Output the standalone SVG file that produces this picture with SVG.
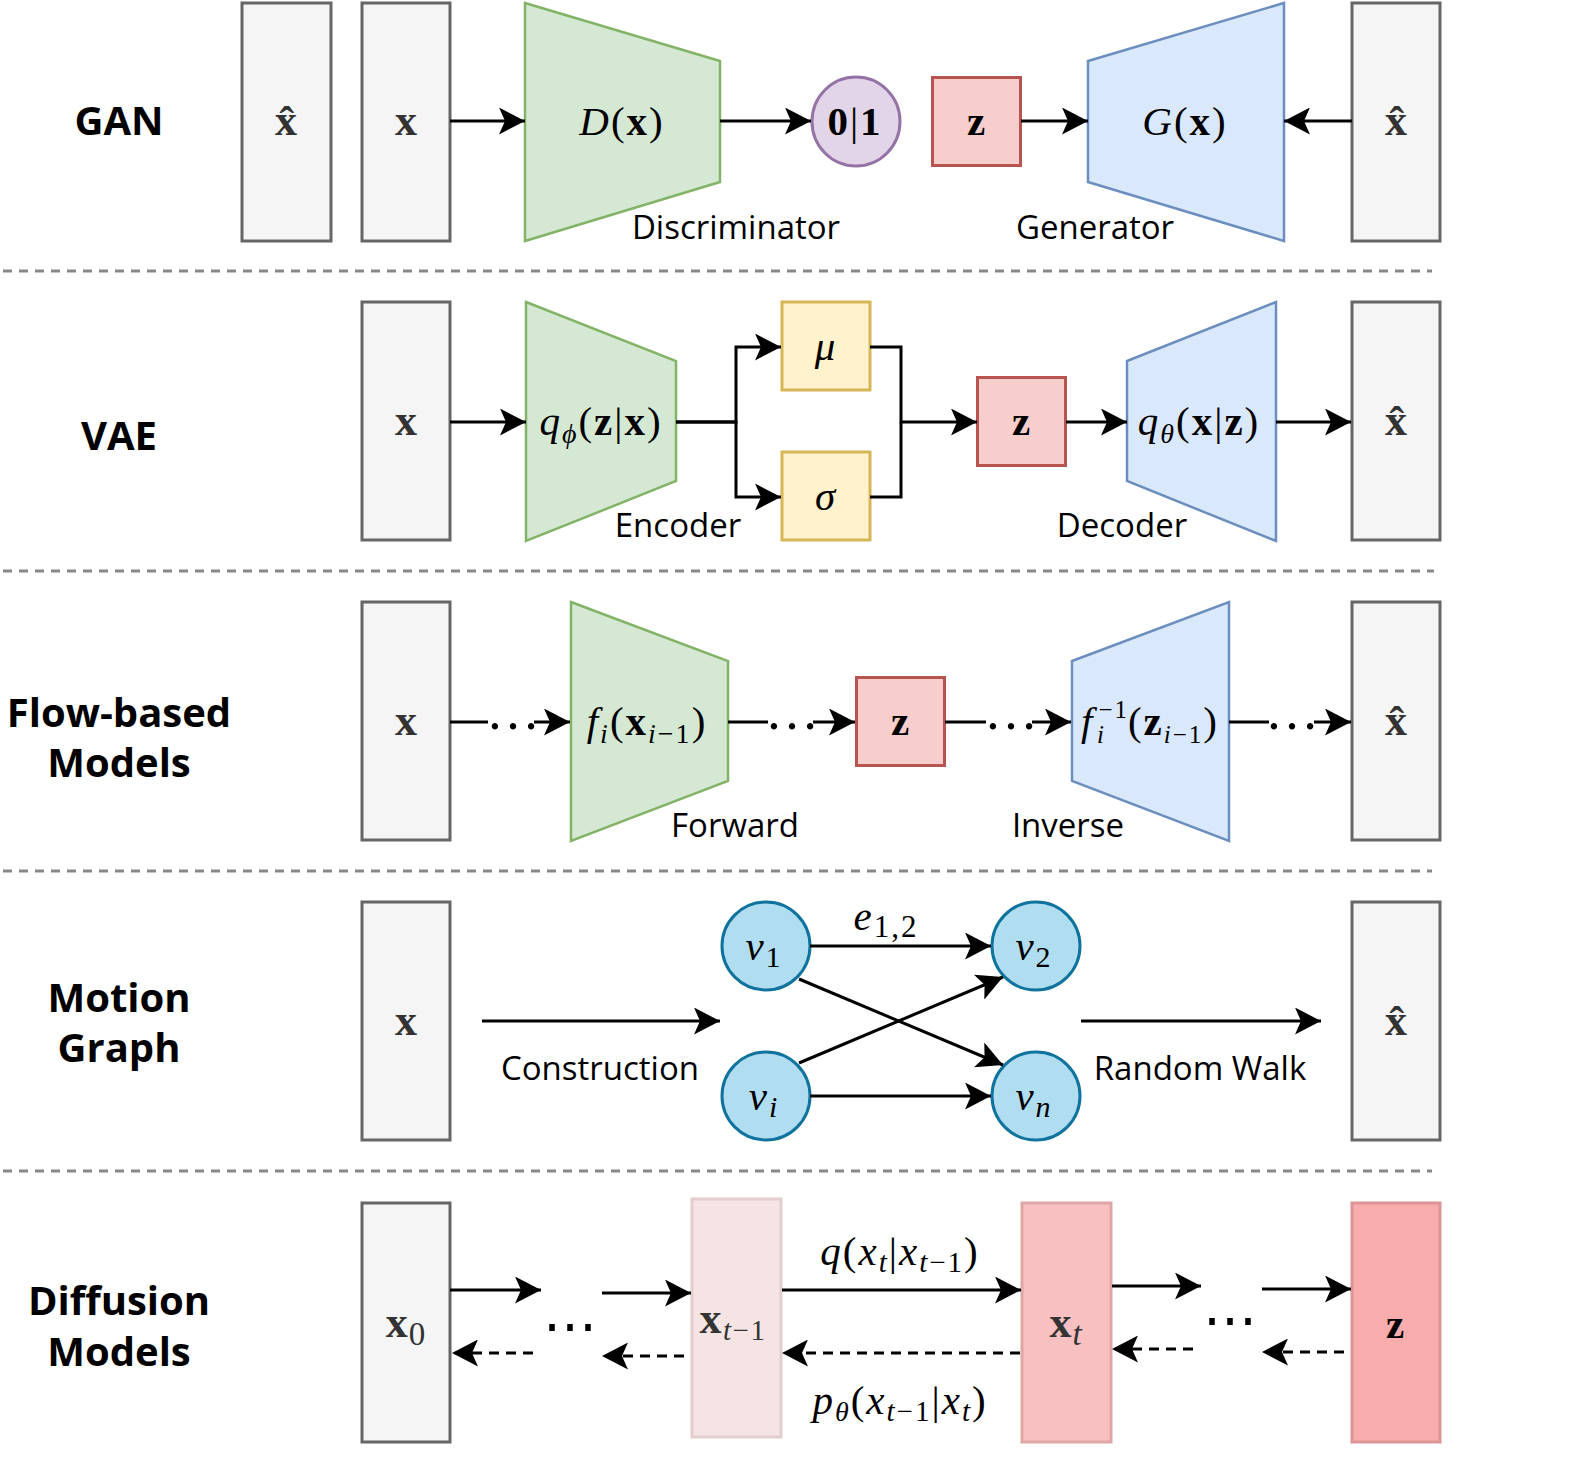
<svg xmlns="http://www.w3.org/2000/svg" width="1590" height="1464" viewBox="0 0 1590 1464">
<defs>
<style>
.box{fill:#f5f5f5;stroke:#666666;stroke-width:3}
.green{fill:#d5e8d4;stroke:#82b366;stroke-width:2.5}
.blue{fill:#dae8fc;stroke:#6c8ebf;stroke-width:2.5}
.red{fill:#f8cecc;stroke:#b85450;stroke-width:3}
.yellow{fill:#fff2cc;stroke:#d6b656;stroke-width:3}
.purple{fill:#e1d5e7;stroke:#9673a6;stroke-width:3}
.gnode{fill:#b1ddf0;stroke:#10739e;stroke-width:3}
.d1{fill:#f6e4e4;stroke:#e3cdcd;stroke-width:3}
.d2{fill:#f8c0c0;stroke:#e0a6a6;stroke-width:3}
.d3{fill:#f8acac;stroke:#db9596;stroke-width:3}
.edge{fill:none;stroke:#000;stroke-width:3}
.dash{stroke-dasharray:10 7}
.sep{fill:none;stroke:#888888;stroke-width:3;stroke-dasharray:9 7}
.title{font-family:"Open Sans","Noto Sans",sans-serif;font-weight:bold;font-size:40px;text-anchor:middle;fill:#000}
.lbl{font-family:"Open Sans","Noto Sans",sans-serif;font-size:33px;text-anchor:middle;fill:#000}
.m{font-family:"Liberation Serif","DejaVu Serif",serif;font-size:41px;letter-spacing:2px;text-anchor:middle;fill:#000}
.bx{font-family:"Liberation Serif","DejaVu Serif",serif;font-weight:bold;font-size:44px;text-anchor:middle;fill:#333333}
.dots{font-family:"Liberation Serif","DejaVu Serif",serif;font-size:54px;text-anchor:middle;fill:#000}
.i{font-style:italic}
.b{font-weight:bold}
</style>
<marker id="arr" viewBox="0 0 26 27" markerWidth="26" markerHeight="27" refX="26" refY="13.5" orient="auto" markerUnits="userSpaceOnUse">
<path d="M0,0 L26,13.5 L0,27 L6,13.5 Z" fill="#000"/>
</marker>
</defs>

<g id="separators">
<line class="sep" x1="3" y1="271" x2="1432" y2="271"/>
<line class="sep" x1="3" y1="571" x2="1434" y2="571"/>
<line class="sep" x1="3" y1="871" x2="1432" y2="871"/>
<line class="sep" x1="3" y1="1171" x2="1432" y2="1171"/>
</g>

<g id="row-labels">
<text class="title" x="119" y="135">GAN</text>
<text class="title" x="119" y="450">VAE</text>
<text class="title" x="119" y="727">Flow-based</text>
<text class="title" x="119" y="777">Models</text>
<text class="title" x="119" y="1012">Motion</text>
<text class="title" x="119" y="1062">Graph</text>
<text class="title" x="119" y="1315">Diffusion</text>
<text class="title" x="119" y="1366">Models</text>
</g>

<!-- GAN -->
<g id="gan-xhat-left"><rect class="box" x="242" y="3" width="89" height="238"/><text class="bx" x="286" y="135">x̂</text></g>
<g id="gan-x"><rect class="box" x="362" y="3" width="88" height="238"/><text class="bx" x="406" y="135">x</text></g>
<g id="gan-disc"><polygon class="green" points="525,3 720,61 720,182 525,241"/><text class="m" x="622" y="135"><tspan class="i">D</tspan>(<tspan class="b">x</tspan>)</text></g>
<g id="gan-out"><ellipse class="purple" cx="856" cy="121.5" rx="44" ry="44.5"/><text class="m" x="855" y="135"><tspan class="b">0</tspan>|<tspan class="b">1</tspan></text></g>
<g id="gan-z"><rect class="red" x="932.5" y="77.5" width="88" height="88"/><text class="m b" x="977" y="135">z</text></g>
<g id="gan-gen"><polygon class="blue" points="1088,61 1284,3 1284,241 1088,182"/><text class="m" x="1185" y="135"><tspan class="i">G</tspan>(<tspan class="b">x</tspan>)</text></g>
<g id="gan-xhat-right"><rect class="box" x="1352" y="3" width="88" height="238"/><text class="bx" x="1396" y="135">x̂</text></g>
<text class="lbl" x="736" y="239">Discriminator</text>
<text class="lbl" x="1095" y="239">Generator</text>

<!-- VAE -->
<g id="vae-x"><rect class="box" x="362" y="302" width="88" height="238"/><text class="bx" x="406" y="435">x</text></g>
<g id="vae-enc"><polygon class="green" points="526,302 676,361 676,481 526,541"/><text class="m" x="601" y="435"><tspan class="i">q</tspan><tspan class="i" font-size="28" dy="8">ϕ</tspan><tspan dy="-8">(</tspan><tspan class="b">z</tspan>|<tspan class="b">x</tspan>)</text></g>
<g id="vae-mu"><rect class="yellow" x="782" y="302" width="88" height="88"/><text class="m i" x="826" y="360">μ</text></g>
<g id="vae-sigma"><rect class="yellow" x="782" y="452" width="88" height="88"/><text class="m i" x="826" y="510">σ</text></g>
<g id="vae-z"><rect class="red" x="977.5" y="377.5" width="88" height="88"/><text class="m b" x="1022" y="435">z</text></g>
<g id="vae-dec"><polygon class="blue" points="1127,361 1276,302 1276,541 1127,481"/><text class="m" x="1199" y="435"><tspan class="i">q</tspan><tspan class="i" font-size="28" dy="8">θ</tspan><tspan dy="-8">(</tspan><tspan class="b">x</tspan>|<tspan class="b">z</tspan>)</text></g>
<g id="vae-xhat"><rect class="box" x="1352" y="302" width="88" height="238"/><text class="bx" x="1396" y="435">x̂</text></g>
<text class="lbl" x="678" y="537">Encoder</text>
<text class="lbl" x="1122" y="537">Decoder</text>

<!-- Flow -->
<g id="flow-x"><rect class="box" x="362" y="602" width="88" height="238"/><text class="bx" x="406" y="735">x</text></g>
<g id="flow-fwd"><polygon class="green" points="571,602 728,661 728,781 571,841"/><text class="m" x="647" y="735" letter-spacing="3"><tspan class="i">f</tspan><tspan class="i" font-size="28" dy="8">i</tspan><tspan dy="-8">(</tspan><tspan class="b">x</tspan><tspan font-size="28" dy="8"><tspan class="i">i</tspan>−1</tspan><tspan dy="-8">)</tspan></text></g>
<g id="flow-z"><rect class="red" x="856.5" y="677.5" width="88" height="88"/><text class="m b" x="901" y="735">z</text></g>
<g id="flow-inv"><polygon class="blue" points="1072,661 1229,602 1229,841 1072,781"/><text class="m" x="1150" y="735" font-size="37" letter-spacing="1.5"><tspan class="i">f</tspan><tspan font-size="25" dx="4" dy="-17">−1</tspan><tspan class="i" font-size="25" dx="-32" dy="25">i</tspan><tspan dx="22" dy="-8">(</tspan><tspan class="b">z</tspan><tspan font-size="25" dy="8"><tspan class="i">i</tspan>−1</tspan><tspan dy="-8">)</tspan></text></g>
<g id="flow-xhat"><rect class="box" x="1352" y="602" width="88" height="238"/><text class="bx" x="1396" y="735">x̂</text></g>
<text class="lbl" x="735" y="837">Forward</text>
<text class="lbl" x="1068" y="837">Inverse</text>

<!-- Motion graph -->
<g id="mg-x"><rect class="box" x="362" y="902" width="88" height="238"/><text class="bx" x="406" y="1035">x</text></g>
<g id="mg-v1"><ellipse class="gnode" cx="766" cy="946" rx="44" ry="44"/><text class="m" x="764" y="960" font-size="43"><tspan class="i">v</tspan><tspan font-size="30" dy="7">1</tspan></text></g>
<g id="mg-vi"><ellipse class="gnode" cx="766" cy="1096" rx="44" ry="44"/><text class="m" x="764" y="1110" font-size="43"><tspan class="i">v</tspan><tspan class="i" font-size="30" dy="7">i</tspan></text></g>
<g id="mg-v2"><ellipse class="gnode" cx="1036" cy="946" rx="44" ry="44"/><text class="m" x="1034" y="960" font-size="43"><tspan class="i">v</tspan><tspan font-size="30" dy="7">2</tspan></text></g>
<g id="mg-vn"><ellipse class="gnode" cx="1036" cy="1096" rx="44" ry="44"/><text class="m" x="1034" y="1110" font-size="43"><tspan class="i">v</tspan><tspan class="i" font-size="30" dy="7">n</tspan></text></g>
<g id="mg-xhat"><rect class="box" x="1352" y="902" width="88" height="238"/><text class="bx" x="1396" y="1035">x̂</text></g>
<text class="lbl" x="600" y="1080">Construction</text>
<text class="lbl" x="1200" y="1080">Random Walk</text>
<text class="m" x="886" y="930" font-size="45"><tspan class="i">e</tspan><tspan font-size="31" dy="7">1,2</tspan></text>

<!-- Diffusion -->
<g id="df-x0"><rect class="box" x="362" y="1203" width="88" height="239"/><text class="bx" x="406" y="1337" letter-spacing="1">x<tspan font-weight="normal" font-size="33" dy="8">0</tspan></text></g>
<g id="df-xt1"><rect class="d1" x="692" y="1199" width="89" height="238"/><text class="bx" x="733" y="1333" font-size="40" letter-spacing="1.5">x<tspan font-weight="normal" font-size="29" dy="7"><tspan font-style="italic">t</tspan>−1</tspan></text></g>
<g id="df-xt"><rect class="d2" x="1022" y="1203" width="89" height="239"/><text class="bx" x="1066" y="1337" letter-spacing="1">x<tspan font-weight="normal" font-style="italic" font-size="33" dy="8">t</tspan></text></g>
<g id="df-z"><rect class="d3" x="1352" y="1203" width="88" height="239"/><text class="m b" x="1396" y="1338">z</text></g>
<text class="dots" x="570" y="1344" font-size="34">⋯</text>
<text class="dots" x="1230" y="1338" font-size="34">⋯</text>
<text class="m" x="900" y="1265" font-size="42" letter-spacing="3"><tspan class="i">q</tspan>(<tspan class="i">x</tspan><tspan class="i" font-size="29" dy="7">t</tspan><tspan dy="-7">|</tspan><tspan class="i">x</tspan><tspan font-size="29" dy="7"><tspan class="i">t</tspan>−1</tspan><tspan dy="-7">)</tspan></text>
<text class="m" x="900" y="1414" font-size="42" letter-spacing="3"><tspan class="i">p</tspan><tspan class="i" font-size="28" dy="7">θ</tspan><tspan dy="-7">(</tspan><tspan class="i">x</tspan><tspan font-size="29" dy="7"><tspan class="i">t</tspan>−1</tspan><tspan dy="-7">|</tspan><tspan class="i">x</tspan><tspan class="i" font-size="29" dy="7">t</tspan><tspan dy="-7">)</tspan></text>

<!-- flow dots -->
<g id="flow-dots">
<text class="dots" x="513" y="729">…</text>
<text class="dots" x="792" y="729">…</text>
<text class="dots" x="1011" y="729">…</text>
<text class="dots" x="1292" y="729">…</text>
</g>

<g id="connectors">
<!-- GAN -->
<line class="edge" x1="450" y1="121" x2="525" y2="121" marker-end="url(#arr)"/>
<line class="edge" x1="720" y1="121" x2="811" y2="121" marker-end="url(#arr)"/>
<line class="edge" x1="1021" y1="121" x2="1088" y2="121" marker-end="url(#arr)"/>
<line class="edge" x1="1352" y1="121" x2="1284" y2="121" marker-end="url(#arr)"/>
<!-- VAE -->
<line class="edge" x1="450" y1="422" x2="526" y2="422" marker-end="url(#arr)"/>
<path class="edge" d="M676,422 H736 V347 H781" marker-end="url(#arr)"/>
<path class="edge" d="M676,422 H736 V497 H781" marker-end="url(#arr)"/>
<path class="edge" d="M870,347 H901 V422 H977" marker-end="url(#arr)"/>
<path class="edge" d="M870,497 H901 V422"/>
<line class="edge" x1="1066" y1="422" x2="1127" y2="422" marker-end="url(#arr)"/>
<line class="edge" x1="1276" y1="422" x2="1351" y2="422" marker-end="url(#arr)"/>
<!-- Flow -->
<line class="edge" x1="450" y1="722" x2="488" y2="722"/>
<line class="edge" x1="534" y1="722" x2="570" y2="722" marker-end="url(#arr)"/>
<line class="edge" x1="728" y1="722" x2="768" y2="722"/>
<line class="edge" x1="813" y1="722" x2="855" y2="722" marker-end="url(#arr)"/>
<line class="edge" x1="945" y1="722" x2="986" y2="722"/>
<line class="edge" x1="1032" y1="722" x2="1071" y2="722" marker-end="url(#arr)"/>
<line class="edge" x1="1229" y1="722" x2="1269" y2="722"/>
<line class="edge" x1="1314" y1="722" x2="1351" y2="722" marker-end="url(#arr)"/>
<!-- Motion graph -->
<line class="edge" x1="482" y1="1021" x2="720" y2="1021" marker-end="url(#arr)"/>
<line class="edge" x1="1081" y1="1021" x2="1321" y2="1021" marker-end="url(#arr)"/>
<line class="edge" x1="810" y1="946" x2="991" y2="946" marker-end="url(#arr)"/>
<line class="edge" x1="810" y1="1096" x2="991" y2="1096" marker-end="url(#arr)"/>
<line class="edge" x1="799" y1="979" x2="1003" y2="1065" marker-end="url(#arr)"/>
<line class="edge" x1="799" y1="1063" x2="1003" y2="977" marker-end="url(#arr)"/>
<!-- Diffusion forward -->
<line class="edge" x1="450" y1="1290" x2="541" y2="1290" marker-end="url(#arr)"/>
<line class="edge" x1="602" y1="1293" x2="691" y2="1293" marker-end="url(#arr)"/>
<line class="edge" x1="782" y1="1290" x2="1021" y2="1290" marker-end="url(#arr)"/>
<line class="edge" x1="1112" y1="1286" x2="1201" y2="1286" marker-end="url(#arr)"/>
<line class="edge" x1="1262" y1="1289" x2="1351" y2="1289" marker-end="url(#arr)"/>
<!-- Diffusion reverse -->
<line class="edge dash" x1="533" y1="1353" x2="452" y2="1353" marker-end="url(#arr)"/>
<line class="edge dash" x1="684" y1="1356" x2="602" y2="1356" marker-end="url(#arr)"/>
<line class="edge dash" x1="1020" y1="1353" x2="782" y2="1353" marker-end="url(#arr)"/>
<line class="edge dash" x1="1193" y1="1349" x2="1112" y2="1349" marker-end="url(#arr)"/>
<line class="edge dash" x1="1344" y1="1352" x2="1262" y2="1352" marker-end="url(#arr)"/>
</g>
</svg>
